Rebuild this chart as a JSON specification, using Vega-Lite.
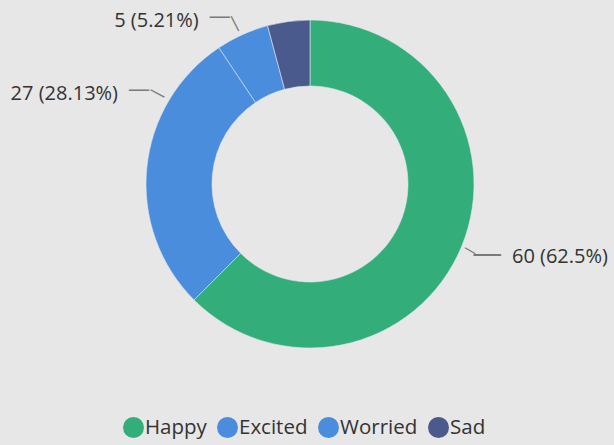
{
  "$schema": "https://vega.github.io/schema/vega-lite/v6.json",
  "width": 608,
  "height": 368,
  "autosize": {"type": "none"},
  "padding": {"left": 6, "top": 0, "right": 0, "bottom": 77},
  "background": "#e7e7e7",
  "config": {"view": {"stroke": null}, "font": "Open Sans"},
  "data": {
    "values": [
      {"emotion": "Happy", "count": 60, "rank": 1, "label": "60 (62.5%)"},
      {"emotion": "Excited", "count": 27, "rank": 2, "label": "27 (28.13%)"},
      {"emotion": "Worried", "count": 5, "rank": 3, "label": "5 (5.21%)"},
      {"emotion": "Sad", "count": 4, "rank": 4, "label": "4 (4.17%)"}
    ]
  },
  "encoding": {
    "theta": {"field": "count", "type": "quantitative", "stack": true},
    "order": {"field": "rank", "type": "quantitative"}
  },
  "layer": [
    {
      "mark": {"type": "arc", "outerRadius": 164, "innerRadius": 98, "stroke": "#dfe6ee", "strokeWidth": 0.6},
      "encoding": {
        "color": {
          "field": "emotion",
          "type": "nominal",
          "scale": {"domain": ["Happy", "Excited", "Worried", "Sad"], "range": ["#33ad7a", "#4a8ddd", "#4a8ddd", "#4a5a8c"]},
          "legend": {
            "orient": "none",
            "legendX": 117,
            "legendY": 417,
            "direction": "horizontal",
            "title": null,
            "symbolType": "circle",
            "symbolSize": 441,
            "symbolStrokeWidth": 0,
            "labelFontSize": 20.5,
            "labelColor": "#333333",
            "labelOffset": 1,
            "columnPadding": 10,
            "padding": 0
          }
        }
      }
    },
    {
      "mark": {"type": "text", "radius": 214.8, "thetaOffset": -0.045, "align": "left", "baseline": "middle", "fontSize": 20, "color": "#333333"},
      "encoding": {
        "text": {"condition": {"test": "datum.emotion === 'Happy'", "field": "label"}, "value": ""}
      }
    },
    {
      "mark": {"type": "text", "radius": 212, "thetaOffset": 0.34, "align": "right", "baseline": "middle", "fontSize": 20, "color": "#333333"},
      "encoding": {
        "text": {"condition": {"test": "datum.emotion === 'Excited'", "field": "label"}, "value": ""}
      }
    },
    {
      "mark": {"type": "text", "radius": 197.5, "thetaOffset": -0.173, "align": "right", "baseline": "middle", "fontSize": 20, "color": "#333333"},
      "encoding": {
        "text": {"condition": {"test": "datum.emotion === 'Worried'", "field": "label"}, "value": ""}
      }
    },
    {
      "mark": {"type": "text", "radius": 190.5, "thetaOffset": -0.017, "align": "center", "baseline": "middle", "fontSize": 30, "color": "#7a7a7a"},
      "encoding": {
        "text": {"condition": {"test": "datum.emotion === 'Happy'", "value": "—"}, "value": ""}
      }
    },
    {
      "mark": {"type": "text", "radius": 195.6, "thetaOffset": 0.41, "align": "center", "baseline": "middle", "fontSize": 22, "color": "#7a7a7a"},
      "encoding": {
        "text": {"condition": {"test": "datum.emotion === 'Excited'", "value": "—"}, "value": ""}
      }
    },
    {
      "mark": {"type": "text", "radius": 191, "thetaOffset": -0.066, "align": "center", "baseline": "middle", "fontSize": 22, "color": "#7a7a7a"},
      "encoding": {
        "text": {"condition": {"test": "datum.emotion === 'Worried'", "value": "—"}, "value": ""}
      }
    },
    {
      "mark": {"type": "text", "radius": 173.5, "thetaOffset": 0, "angle": 30, "align": "center", "baseline": "middle", "fontSize": 13, "color": "#7a7a7a"},
      "encoding": {
        "text": {"condition": {"test": "datum.emotion === 'Happy'", "value": "—"}, "value": ""}
      }
    },
    {
      "mark": {"type": "text", "radius": 177.6, "thetaOffset": 0.44, "angle": 28, "align": "center", "baseline": "middle", "fontSize": 17, "color": "#7a7a7a"},
      "encoding": {
        "text": {"condition": {"test": "datum.emotion === 'Excited'", "value": "—"}, "value": ""}
      }
    },
    {
      "mark": {"type": "text", "radius": 177.2, "thetaOffset": -0.012, "angle": 63, "align": "center", "baseline": "middle", "fontSize": 18, "color": "#7a7a7a"},
      "encoding": {
        "text": {"condition": {"test": "datum.emotion === 'Worried'", "value": "—"}, "value": ""}
      }
    }
  ]
}
